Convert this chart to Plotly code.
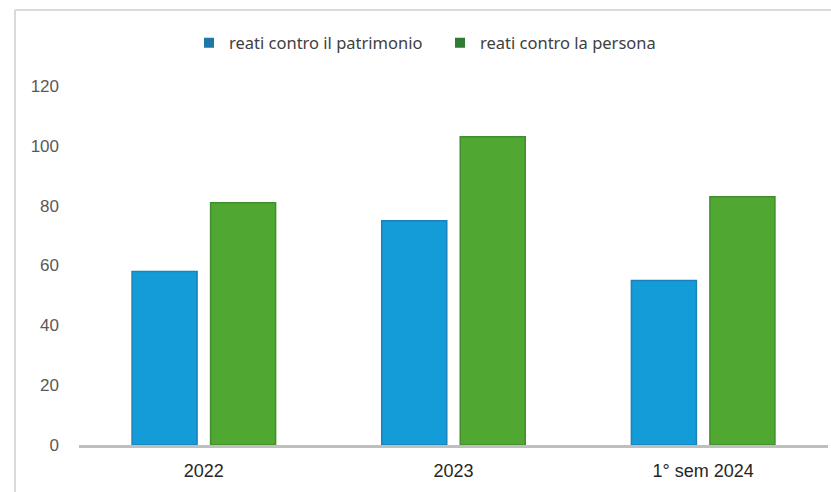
import plotly.graph_objects as go

categories = ["2022", "2023", "1° sem 2024"]
series_names = ["reati contro il patrimonio", "reati contro la persona"]
patrimonio = [58, 75, 55]
persona = [81, 103, 83]
y_ticks = [0, 20, 40, 60, 80, 100, 120]

bar_fill = ["#139cd7", "#50a732"]
bar_edge = ["#1a82b8", "#3f8f2c"]
legend_colors = ["#1f77a8", "#2e7d32"]

W, H = 831, 492
ML, MR, MT, MB = 79, 3, 86, 47
pw = W - ML - MR
ph = H - MT - MB

fig = go.Figure()
for vals, fc, ec in zip([patrimonio, persona], bar_fill, bar_edge):
    fig.add_trace(go.Bar(
        x=categories, y=vals, showlegend=False,
        marker=dict(color=fc, line=dict(color=ec, width=1.5)),
        hoverinfo="skip",
    ))
for name, lc in zip(series_names, legend_colors):
    fig.add_trace(go.Scatter(
        x=[None], y=[None], mode="markers", name=name,
        marker=dict(symbol="square", size=10, color=lc),
    ))

def px_x(p):
    return (p - ML) / pw

def px_y(p):
    return (H - MB - p) / ph

frame = "#d9d9d9"
fig.add_shape(type="line", xref="paper", yref="paper",
              x0=px_x(15), x1=px_x(15), y0=px_y(10), y1=px_y(492),
              line=dict(color=frame, width=2))
fig.add_shape(type="line", xref="paper", yref="paper",
              x0=px_x(15), x1=px_x(831), y0=px_y(10), y1=px_y(10),
              line=dict(color=frame, width=2))

fig.update_layout(
    width=W, height=H,
    margin=dict(l=ML, r=MR, t=MT, b=MB, pad=0),
    paper_bgcolor="white", plot_bgcolor="white",
    barmode="group", bargap=0.371, bargroupgap=0.172,
    font=dict(family="Liberation Sans, Arial, sans-serif"),
    legend=dict(
        orientation="h", x=px_x(189), xanchor="left",
        y=px_y(43), yanchor="middle",
        font=dict(family="Noto Sans, Open Sans, sans-serif", size=16.5, color="#404040"),
        itemwidth=30, entrywidth=206, entrywidthmode="pixels",
        bgcolor="rgba(0,0,0,0)",
    ),
    xaxis=dict(
        showline=True, linecolor="#bfbfbf", linewidth=2.5,
        showgrid=False, ticks="",
        tickfont=dict(size=18, color="#262626", family="Liberation Sans, Arial, sans-serif"),
        ticklabelstandoff=8,
    ),
    yaxis=dict(
        range=[0, 120], tickvals=y_ticks, showgrid=False, zeroline=False,
        showline=False, ticks="",
        tickfont=dict(size=17, color="#595959", family="Liberation Sans, Arial, sans-serif"),
        ticklabelstandoff=19,
    ),
)

fig.write_html("out.html")
